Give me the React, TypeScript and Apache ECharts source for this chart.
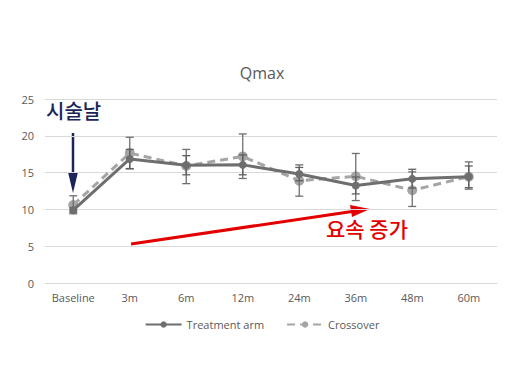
import React, { useEffect, useRef } from "react";
import * as echarts from "echarts";

const categories = ["Baseline", "3m", "6m", "12m", "24m", "36m", "48m", "60m"];
const treatment = [9.9, 16.85, 16.0, 16.05, 14.8, 13.25, 14.15, 14.45];
const treatmentLow = [9.6, 15.55, 14.7, 14.7, 13.9, 12.1, 12.9, 12.95];
const treatmentHigh = [10.2, 18.15, 17.3, 17.4, 15.7, 14.4, 15.45, 15.9];
const crossover = [10.6, 17.65, 15.9, 17.2, 13.9, 14.5, 12.6, 14.45];
const crossoverLow = [9.4, 15.5, 13.5, 14.2, 11.8, 11.2, 10.4, 12.75];
const crossoverHigh = [11.85, 19.8, 18.15, 20.25, 16.05, 17.6, 15.1, 16.45];
const yTicks = [0, 5, 10, 15, 20, 25];

const errorSeries = (low: number[], high: number[], color: string) => ({
  type: "custom",
  data: low.map((l, i) => [i, l, high[i]]),
  encode: { x: 0, y: [1, 2] },
  z: 3,
  silent: true,
  renderItem: (params: any, api: any) => {
    const i = api.value(0);
    const lo = api.coord([i, api.value(1)]);
    const hi = api.coord([i, api.value(2)]);
    const w = 4;
    const st = { stroke: color, lineWidth: 1.3 };
    return {
      type: "group",
      children: [
        { type: "line", shape: { x1: lo[0], y1: lo[1], x2: hi[0], y2: hi[1] }, style: st },
        { type: "line", shape: { x1: lo[0] - w, y1: lo[1], x2: lo[0] + w, y2: lo[1] }, style: st },
        { type: "line", shape: { x1: hi[0] - w, y1: hi[1], x2: hi[0] + w, y2: hi[1] }, style: st },
      ],
    };
  },
});

export default function App() {
  const ref = useRef<HTMLDivElement>(null);
  useEffect(() => {
    document.body.style.margin = "0";
    const chart = echarts.init(ref.current!, null, { renderer: "svg" });
    const font = "'Open Sans', sans-serif";
    const kfont = "'Noto Sans CJK KR', sans-serif";
    chart.setOption({
      animation: false,
      backgroundColor: "#ffffff",
      title: {
        text: "Qmax",
        left: "center",
        top: 60,
        textStyle: { fontFamily: font, fontSize: 16, fontWeight: "normal", color: "#595959" },
      },
      grid: { left: 45, right: 27, top: 99, bottom: 88 },
      legend: {
        bottom: 36,
        left: "center",
        itemWidth: 36,
        itemHeight: 8,
        itemGap: 22,
        textStyle: { fontFamily: font, fontSize: 11, color: "#595959" },
        data: ["Treatment arm", "Crossover"],
      },
      xAxis: {
        type: "category",
        data: categories,
        axisLine: { lineStyle: { color: "#d9d9d9" } },
        axisTick: { show: false },
        axisLabel: { fontFamily: font, fontSize: 11, color: "#595959", margin: 9 },
      },
      yAxis: {
        type: "value",
        min: 0,
        max: 25,
        interval: 5,
        axisLine: { show: false },
        axisTick: { show: false },
        splitLine: { lineStyle: { color: "#d9d9d9", width: 1 } },
        axisLabel: {
          fontFamily: font,
          fontSize: 11,
          color: "#595959",
          margin: 11,
          formatter: (v: number) => (yTicks.includes(v) ? String(v) : ""),
        },
      },
      series: [
        {
          name: "Crossover",
          type: "line",
          data: crossover,
          z: 2,
          symbol: "circle",
          symbolSize: 10,
          lineStyle: { color: "#a5a5a5", width: 3, type: [8, 5] },
          itemStyle: { color: "#a5a5a5" },
        },
        errorSeries(crossoverLow, crossoverHigh, "#6f6f6f"),
        {
          name: "Treatment arm",
          type: "line",
          data: treatment,
          z: 4,
          symbol: "circle",
          symbolSize: 8,
          lineStyle: { color: "#6e6e6e", width: 3 },
          itemStyle: { color: "#6e6e6e" },
        },
        errorSeries(treatmentLow, treatmentHigh, "#5f5f5f"),
      ],
      graphic: [
        {
          type: "text",
          left: 46,
          top: 100,
          style: { text: "시술날", fontFamily: kfont, fontSize: 20, fontWeight: 500, fill: "#1b2559" },
        },
        {
          type: "line",
          shape: { x1: 73, y1: 133, x2: 73, y2: 175 },
          style: { stroke: "#1b2559", lineWidth: 2.5 },
        },
        {
          type: "polygon",
          shape: { points: [[68, 172], [78, 172], [73, 193]] },
          style: { fill: "#1b2559" },
        },
        {
          type: "line",
          shape: { x1: 131, y1: 244, x2: 352, y2: 211.5 },
          style: { stroke: "#e30000", lineWidth: 3 },
        },
        {
          type: "polygon",
          shape: { points: [[350, 205], [352, 217], [370, 209]] },
          style: { fill: "#e30000" },
        },
        {
          type: "text",
          left: 326,
          top: 217,
          style: { text: "요속 증가", fontFamily: kfont, fontSize: 21, fontWeight: 500, fill: "#e30000" },
        },
      ],
    });
    return () => chart.dispose();
  }, []);
  return <div ref={ref} style={{ width: 524, height: 371 }} />;
}
